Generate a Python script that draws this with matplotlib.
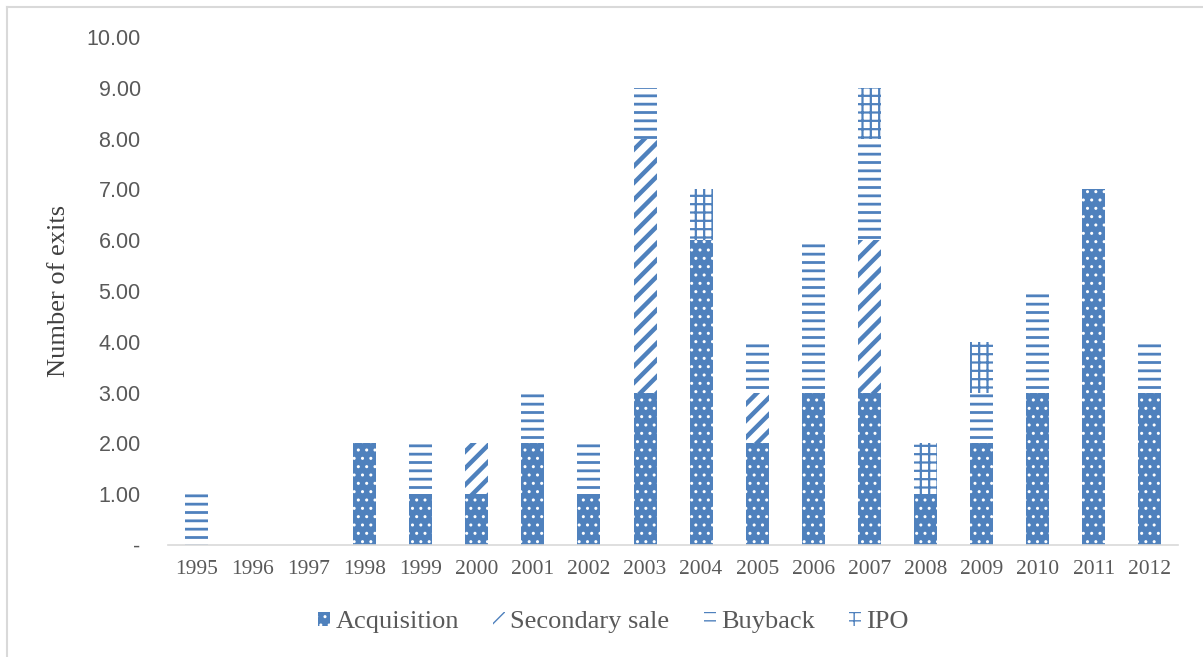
import matplotlib.pyplot as plt
import matplotlib.ticker as mticker
from matplotlib.lines import Line2D
import numpy as np

# exit counts by year
years = ["1995", "1996", "1997", "1998", "1999", "2000", "2001", "2002", "2003",
         "2004", "2005", "2006", "2007", "2008", "2009", "2010", "2011", "2012"]
acquisition = [0, 0, 0, 2, 1, 1, 2, 1, 3, 6, 2, 3, 3, 1, 2, 3, 7, 3]
secondary = [0, 0, 0, 0, 0, 1, 0, 0, 5, 0, 1, 0, 3, 0, 0, 0, 0, 0]
buyback = [1, 0, 0, 0, 1, 0, 1, 1, 1, 0, 1, 3, 2, 0, 1, 2, 0, 1]
ipo = [0, 0, 0, 0, 0, 0, 0, 0, 0, 1, 0, 0, 1, 1, 1, 0, 0, 0]

blue = "#4F81BD"
grey_txt = "#595959"
serif = ["Liberation Serif", "DejaVu Serif"]

fig = plt.figure(figsize=(12.03, 6.57), dpi=100)
ax = fig.add_axes([0.140, 0.1705, 0.839, 0.773])

x = np.arange(len(years))
w = 0.41
bottom = np.zeros(len(years))

series = [
    ("Acquisition", acquisition, blue, "white", "..", 1.0),
    ("Secondary sale", secondary, "white", blue, "//", 3.2),
    ("Buyback", buyback, "white", blue, "--", 2.0),
    ("IPO", ipo, "white", blue, "++", 1.6),
]

handles = []
for name, vals, fc, hc, hatch, hlw in series:
    vals = np.array(vals, dtype=float)
    with plt.rc_context({"hatch.linewidth": hlw}):
        bars = ax.bar(x, vals, w, bottom=bottom, facecolor=fc, edgecolor=hc,
                      hatch=hatch, linewidth=0, label=name)
    bottom += vals
    handles.append(bars)

ax.set_xlim(-0.5, len(years) - 0.5)
ax.set_ylim(0, 10)
ax.set_yticks(np.arange(0, 11, 1))
ax.yaxis.set_major_formatter(
    mticker.FuncFormatter(lambda v, p: "-" if v == 0 else "%.2f" % v))
ax.set_xticks(x)
ax.set_xticklabels(years, fontfamily=serif, fontsize=15.5, color=grey_txt)

for lab in ax.get_yticklabels():
    lab.set_fontfamily("Liberation Sans")
    lab.set_fontsize(15.5)
    lab.set_color(grey_txt)

ax.tick_params(axis="y", length=0, pad=20)
ax.tick_params(axis="x", length=0, pad=11)

for s in ["top", "right", "left"]:
    ax.spines[s].set_visible(False)
ax.spines["bottom"].set_color("#D9D9D9")
ax.spines["bottom"].set_linewidth(1.2)

ax.set_ylabel("Number of exits", fontfamily=serif, fontsize=19, color="#404040",
              labelpad=12)

leg = fig.legend(handles=handles, loc="center", bbox_to_anchor=(0.510, 0.053),
                 ncol=4, frameon=False, handlelength=0.45, handleheight=0.45,
                 handletextpad=0.2, columnspacing=1.3,
                 prop={"family": serif, "size": 19})
for t in leg.get_texts():
    t.set_color(grey_txt)

# chart area border (Excel style)
fig.add_artist(Line2D([7 / 1203, 7 / 1203], [0, 1 - 7 / 657], color="#D9D9D9", lw=1.5))
fig.add_artist(Line2D([7 / 1203, 1], [1 - 7 / 657, 1 - 7 / 657], color="#D9D9D9", lw=1.5))

fig.savefig("out.png", dpi=100)
